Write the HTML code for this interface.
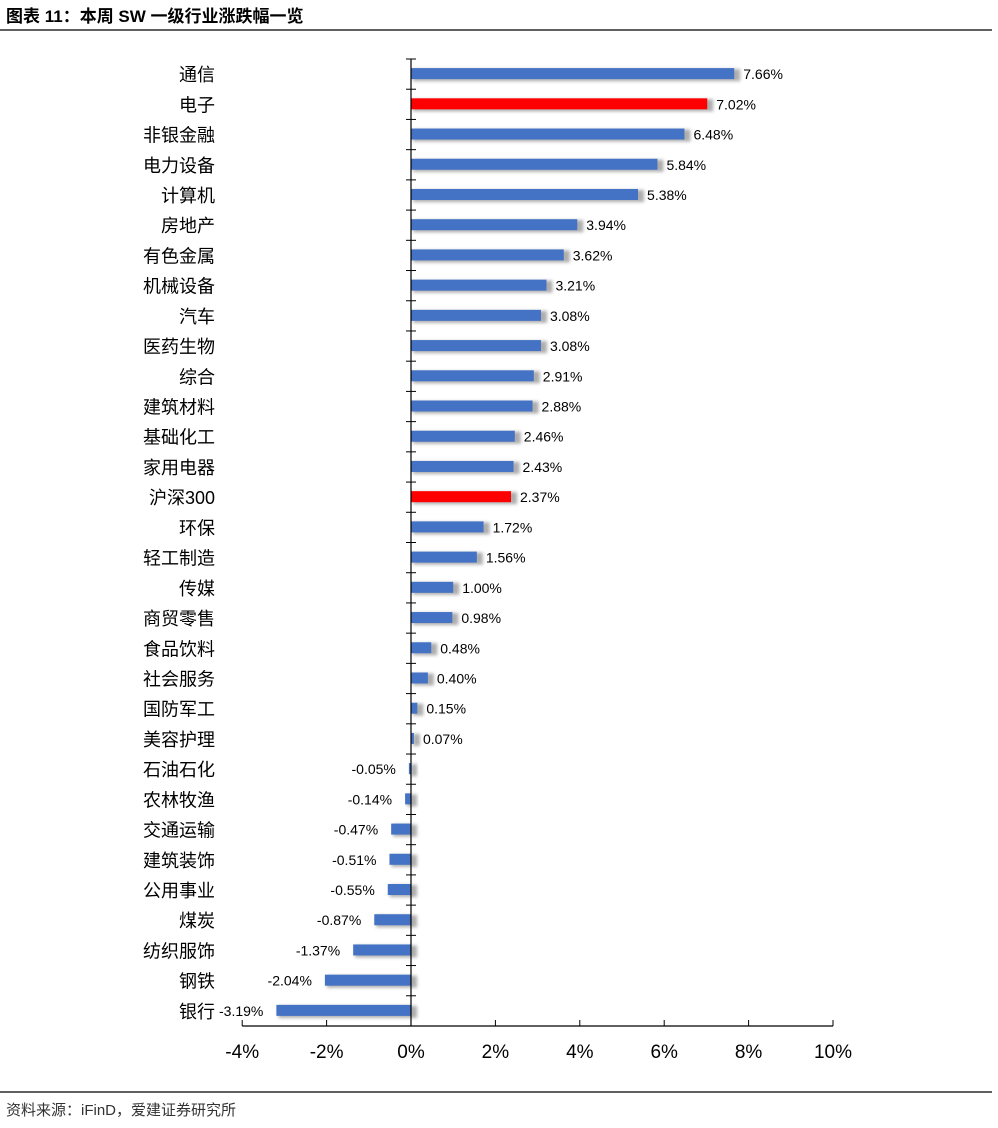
<!DOCTYPE html>
<html><head><meta charset="utf-8"><style>
body{margin:0;background:#fff;width:998px;height:1123px;overflow:hidden;font-family:"Liberation Sans","Noto Sans CJK SC",sans-serif}
</style></head><body>
<svg id="c" width="998" height="1123" xmlns="http://www.w3.org/2000/svg">
<defs><filter id="blur" x="-20%" y="-50%" width="140%" height="200%"><feGaussianBlur stdDeviation="1.5"/></filter></defs>
<text x="6" y="22" font-size="17" font-weight="bold" fill="#000">图表 11：本周 SW 一级行业涨跌幅一览</text>
<line x1="0" y1="30" x2="992" y2="30" stroke="#000" stroke-width="1.2"/>
<line x1="0" y1="1092" x2="992" y2="1092" stroke="#000" stroke-width="1.2"/>
<text x="6" y="1115" font-size="15" fill="#333">资料来源：iFinD，爱建证券研究所</text>
<g id="g"></g>
</svg>
<script>
const categories=["通信","电子","非银金融","电力设备","计算机","房地产","有色金属","机械设备","汽车","医药生物","综合","建筑材料","基础化工","家用电器","沪深300","环保","轻工制造","传媒","商贸零售","食品饮料","社会服务","国防军工","美容护理","石油石化","农林牧渔","交通运输","建筑装饰","公用事业","煤炭","纺织服饰","钢铁","银行"];
const values=[7.66,7.02,6.48,5.84,5.38,3.94,3.62,3.21,3.08,3.08,2.91,2.88,2.46,2.43,2.37,1.72,1.56,1.00,0.98,0.48,0.40,0.15,0.07,-0.05,-0.14,-0.47,-0.51,-0.55,-0.87,-1.37,-2.04,-3.19];
const highlighted=["电子","沪深300"];
const xTicks=[-4,-2,0,2,4,6,8,10];
const NS="http://www.w3.org/2000/svg";
const g=document.getElementById('g');
const x=v=>411+v*42.2;
const plotTop=59,plotBottom=1026,step=(plotBottom-plotTop)/categories.length;
const y=i=>plotTop+step*(i+0.5);
function el(t,a){const e=document.createElementNS(NS,t);for(const k in a)e.setAttribute(k,a[k]);g.appendChild(e);return e;}
categories.forEach((c,i)=>{
  const v=values[i],x0=Math.min(x(0),x(v)),w=Math.abs(x(v)-x(0)),yc=y(i);
  const s=el('rect',{x:x0+2,y:yc-5,width:w+4,height:12,fill:'#999',filter:'url(#blur)',opacity:0.8});
  
  
  const b=el('rect',{x:x0,y:yc-6,width:w,height:11,fill:highlighted.includes(c)?'#ff0000':'#4472c4'});
  
  
  const l=el('text',{x:215,y:yc+7,'font-size':18,'text-anchor':'end',fill:'#000'});l.textContent=c;
  
  
  const vt=el('text',{x:v>=0?x(v)+9:Math.min(x(v),x(0))-13,y:yc+5,'font-size':14,'text-anchor':v>=0?'start':'end',fill:'#000'});
  vt.textContent=v.toFixed(2)+'%';
  
  
});
for(let i=0;i<=categories.length;i++){const t=el('line',{x1:406,x2:416,y1:plotTop+step*i,y2:plotTop+step*i,stroke:'#000','stroke-width':1});

}
const ya=el('line',{x1:x(0),x2:x(0),y1:plotTop,y2:plotBottom,stroke:'#000','stroke-width':1.2});


const xa=el('line',{x1:x(-4),x2:x(10),y1:plotBottom,y2:plotBottom,stroke:'#000','stroke-width':1.2});


xTicks.forEach(v=>{
  const t=el('line',{x1:x(v),x2:x(v),y1:plotBottom-6,y2:plotBottom,stroke:'#000','stroke-width':1});
  
  
  const l=el('text',{x:x(v),y:1058,'font-size':19,'text-anchor':'middle',fill:'#000'});l.textContent=v+'%';
  
  
});
</script>
</body></html>
